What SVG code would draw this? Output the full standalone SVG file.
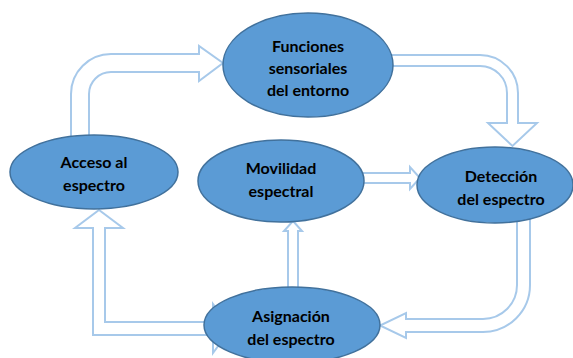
<svg xmlns="http://www.w3.org/2000/svg" width="573" height="358" viewBox="0 0 573 358">
<style>
.arr{fill:#ffffff;stroke:#A7C9EA;stroke-width:2;stroke-linejoin:miter}
.node ellipse{fill:#5B9BD5;stroke:#41719C;stroke-width:1.5}
.node text{font-family:Lato,"Open Sans","Liberation Sans",sans-serif;font-weight:bold;font-size:16px;fill:#000000;text-anchor:middle}
</style>
<rect width="573" height="358" fill="#ffffff"/>
<g id="connectors">
<path class="arr" d="M71,140 L71,94 A40,40 0 0 1 111,54 L199,54 L199,46 L223,63 L199,81 L199,72 L111,72 A22,22 0 0 0 89,94 L89,140 Z"/>
<path class="arr" d="M390,55 L480,55 A38,38 0 0 1 518,93 L518,123 L537,123 L512.5,146 L488,123 L507,123 L507,93 A27,27 0 0 0 480,66 L390,66 Z"/>
<path class="arr" d="M360,173 L410,173 L410,167 L420,178 L410,189 L410,183 L360,183 Z"/>
<path class="arr" d="M288,292 L288,231 L284,231 L293,221 L302,231 L298,231 L298,292 Z"/>
<path class="arr" d="M517,218 L517,285 A34,34 0 0 1 483,319 L406,319 L406,313 L380,325.5 L406,338 L406,332 L483,332 A47,47 0 0 0 530,285 L530,218 Z"/>
<path class="arr" d="M93,228 L75,228 L99,210 L123,228 L105,228 L105,322 L213,322 L213,304 L231,328.5 L213,353 L213,335 L93,335 Z"/>
</g>
<g id="n-funciones" class="node">
<ellipse cx="308" cy="65" rx="85" ry="52"/>
<text x="308" y="52">Funciones</text>
<text x="308" y="74">sensoriales</text>
<text x="308" y="96">del entorno</text>
</g>
<g id="n-acceso" class="node">
<ellipse cx="94" cy="172" rx="84" ry="37"/>
<text x="94" y="168">Acceso al</text>
<text x="94" y="191">espectro</text>
</g>
<g id="n-movilidad" class="node">
<ellipse cx="281" cy="181" rx="83" ry="41"/>
<text x="281" y="174">Movilidad</text>
<text x="281" y="197">espectral</text>
</g>
<g id="n-deteccion" class="node">
<ellipse cx="495" cy="185" rx="78" ry="38"/>
<text x="501" y="182">Detección</text>
<text x="501" y="205">del espectro</text>
</g>
<g id="n-asignacion" class="node">
<ellipse cx="292" cy="325" rx="88" ry="38"/>
<text x="291" y="322">Asignación</text>
<text x="291" y="345">del espectro</text>
</g>
</svg>
